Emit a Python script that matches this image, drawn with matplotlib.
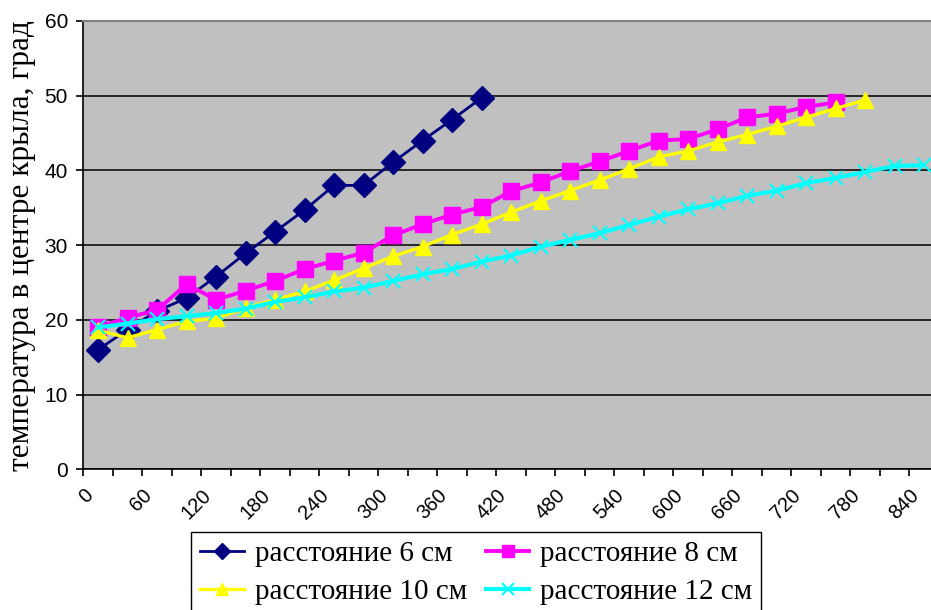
import matplotlib
matplotlib.use("Agg")
import matplotlib.pyplot as plt
from matplotlib.ticker import MultipleLocator, FixedLocator

# time, s (midpoints of 30 s intervals)
t_6 = [15, 45, 75, 105, 135, 165, 195, 225, 255, 285, 315, 345, 375, 405]
temp_6 = [16.0, 18.7, 21.2, 22.9, 25.8, 28.9, 31.8, 34.7, 38.0, 38.0, 41.1, 44.0, 46.8, 49.7]

t_8 = [15, 45, 75, 105, 135, 165, 195, 225, 255, 285, 315, 345, 375, 405, 435, 465,
       495, 525, 555, 585, 615, 645, 675, 705, 735, 765]
temp_8 = [19.0, 20.3, 21.3, 24.8, 22.7, 23.9, 25.2, 26.8, 27.9, 29.0, 31.3, 32.8, 34.1,
          35.1, 37.2, 38.4, 39.9, 41.2, 42.6, 44.0, 44.2, 45.5, 47.1, 47.6, 48.5, 49.1]

t_10 = [15, 45, 75, 105, 135, 165, 195, 225, 255, 285, 315, 345, 375, 405, 435, 465,
        495, 525, 555, 585, 615, 645, 675, 705, 735, 765, 795]
temp_10 = [18.6, 17.6, 18.7, 19.8, 20.2, 21.6, 22.7, 23.8, 25.3, 26.9, 28.5, 29.8, 31.4,
           32.8, 34.4, 35.9, 37.3, 38.7, 40.2, 41.8, 42.6, 43.8, 44.8, 45.9, 47.1, 48.3, 49.4]

t_12 = [15, 45, 75, 105, 135, 165, 195, 225, 255, 285, 315, 345, 375, 405, 435, 465,
        495, 525, 555, 585, 615, 645, 675, 705, 735, 765, 795, 825, 855]
temp_12 = [19.0, 19.5, 20.1, 20.5, 20.9, 21.5, 22.4, 23.0, 23.8, 24.3, 25.2, 26.1, 26.8,
           27.8, 28.6, 29.8, 30.7, 31.6, 32.7, 33.8, 34.8, 35.6, 36.6, 37.3, 38.3, 39.0,
           39.8, 40.6, 40.7]

labels = ["расстояние 6 см", "расстояние 8 см", "расстояние 10 см", "расстояние 12 см"]
x_ticks = list(range(0, 841, 60))
y_ticks = [0, 10, 20, 30, 40, 50, 60]

W, H = 931, 610
fig = plt.figure(figsize=(W / 100, H / 100), dpi=100)
fig.patch.set_facecolor("white")

left, top, bottom = 83.3, 21.0, 469.3
x_max = 870
px_per_unit = 0.9833
ax = fig.add_axes([left / W, 1 - bottom / H, x_max * px_per_unit / W, (bottom - top) / H])
ax.set_facecolor("#C0C0C0")

l6, = ax.plot(t_6, temp_6, color="#000080", lw=2.0, marker="D", ms=12, mec="#000080",
              mfc="#000080", label=labels[0], zorder=3)
l8, = ax.plot(t_8, temp_8, color="#FF00FF", lw=2.8, marker="s", ms=11, mec="#FF00FF",
              mfc="#FF00FF", label=labels[1], zorder=3)
l10, = ax.plot(t_10, temp_10, color="#FFFF00", lw=2.4, marker="^", ms=12, mec="#FFFF00",
               mfc="#FFFF00", label=labels[2], zorder=3)
l12, = ax.plot(t_12, temp_12, color="#00FFFF", lw=3.0, marker="x", ms=10, mew=1.5,
               mec="#00FFFF", label=labels[3], zorder=3)

ax.set_xlim(0, x_max)
ax.set_ylim(0, 60)

ax.yaxis.set_major_locator(FixedLocator(y_ticks))
ax.xaxis.set_major_locator(FixedLocator(x_ticks))
ax.xaxis.set_minor_locator(MultipleLocator(30))
ax.set_xticklabels([str(v) for v in x_ticks], rotation=45, ha="right", va="top",
                   rotation_mode="anchor", fontsize=14.5, family="Liberation Sans")
ax.set_yticklabels([str(v) for v in y_ticks], fontsize=15, family="Liberation Sans")
ax.tick_params(axis="both", which="both", direction="out", length=5, width=1.2,
               color="black")
ax.tick_params(axis="x", which="major", pad=7)
ax.tick_params(axis="y", pad=6)

ax.grid(axis="y", color="black", lw=1.1, zorder=1)
ax.set_axisbelow(True)
for side in ("left", "bottom"):
    ax.spines[side].set_color("black")
    ax.spines[side].set_linewidth(1.2)
ax.spines["top"].set_color("#808080")
ax.spines["top"].set_linewidth(1.5)
ax.spines["right"].set_visible(False)

ax.set_ylabel("температура в центре крыла, град", family="Liberation Serif",
              fontsize=22.5, labelpad=6)

# two rows: 6 cm | 8 cm, then 10 cm | 12 cm (column-major order for ncol=2)
leg = fig.legend([l6, l10, l8, l12], [labels[0], labels[2], labels[1], labels[3]],
                 loc="upper left", bbox_to_anchor=(191 / W, 1 - 531.7 / H),
                 bbox_transform=fig.transFigure, ncol=2, frameon=True, fancybox=False,
                 shadow=False, edgecolor="black", framealpha=1,
                 prop={"family": "Liberation Serif", "size": 21},
                 handlelength=1.5, columnspacing=0.65, handletextpad=0.38,
                 borderpad=0.3, labelspacing=0.4, borderaxespad=0)
leg.get_frame().set_linewidth(1.0)
for h in leg.legend_handles:
    h.set_markersize(8)

fig.savefig("out.png", dpi=100)
